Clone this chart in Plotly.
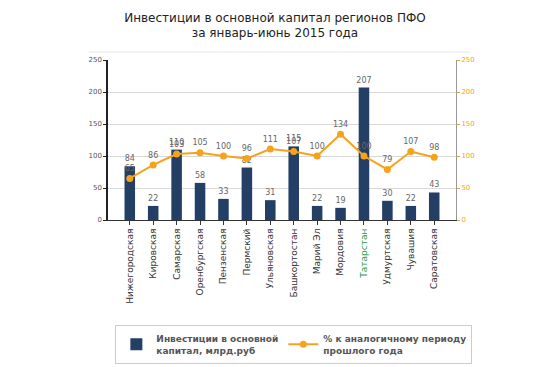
import plotly.graph_objects as go

regions = ["Нижегородская", "Кировская", "Самарская", "Оренбургская", "Пензенская",
           "Пермский", "Ульяновская", "Башкортостан", "Марий Эл", "Мордовия",
           "Татарстан", "Удмуртская", "Чувашия", "Саратовская"]
invest = [84, 22, 110, 58, 33, 82, 31, 115, 22, 19, 207, 30, 22, 43]
percent = [65, 86, 103, 105, 100, 96, 111, 107, 100, 134, 100, 79, 107, 98]
highlight = "Татарстан"
yticks = [0, 50, 100, 150, 200, 250]

ticktext = [f'<span style="color:#1e9a4a">{r}</span>' if r == highlight else r for r in regions]

fig = go.Figure()
fig.add_trace(go.Bar(
    x=regions, y=invest, name="Инвестиции в основной<br>капитал, млрд.руб",
    marker=dict(color="#243f66", line=dict(width=0)),
    text=invest, textposition="outside", cliponaxis=False, constraintext="none",
    textfont=dict(size=8, color="#666666", family="DejaVu Sans"),
))
fig.add_trace(go.Scatter(
    x=regions, y=percent, name="% к аналогичному периоду<br>прошлого года",
    yaxis="y2", mode="lines+markers+text",
    line=dict(color="#f7a21b", width=2), marker=dict(color="#f7a21b", size=7),
    text=percent, textposition="top center", cliponaxis=False,
    textfont=dict(size=8, color="#666666", family="DejaVu Sans"),
))

# the page body adds an 8px offset, so the layout is sized 542x359
fig.update_layout(
    width=542, height=359,
    paper_bgcolor="white", plot_bgcolor="white",
    margin=dict(l=100, r=94, t=52, b=147, autoexpand=False),
    title=dict(text="Инвестиции в основной капитал регионов ПФО<br>за январь-июнь 2015 года",
               x=0.4926, xanchor="center", xref="container", y=0.962, yanchor="top",
               font=dict(size=12, color="#222222", family="DejaVu Sans")),
    bargap=0.55,
    showlegend=True,
    legend=dict(orientation="h", x=1.047, xanchor="right", xref="paper",
                y=-0.656, yanchor="top", yref="paper",
                bordercolor="#cccccc", borderwidth=1,
                font=dict(size=9, color="#555555", family="DejaVu Sans", weight="bold"),
                itemwidth=30),
    xaxis=dict(tickmode="array", tickvals=regions, ticktext=ticktext, tickangle=-90,
               tickfont=dict(size=9, color="#333333", family="DejaVu Sans"),
               showline=True, linecolor="#333333", linewidth=1, automargin=False,
               ticks="outside", ticklen=4, tickcolor="#333333", showgrid=False),
    yaxis=dict(range=[0, 250], tickvals=yticks, showgrid=True, gridcolor="#d9d9d9",
               showline=True, linecolor="#222222", linewidth=1.5, automargin=False,
               ticks="outside", ticklen=3, tickcolor="#222222",
               tickfont=dict(size=7, color="#555555", family="DejaVu Sans"), zeroline=False),
    yaxis2=dict(range=[0, 250], tickvals=yticks, overlaying="y", side="right",
                showgrid=False, showline=True, linecolor="#999999", linewidth=1, automargin=False,
                ticks="outside", ticklen=3, tickcolor="#f7a21b",
                tickfont=dict(size=7, color="#f7a21b", family="DejaVu Sans"), zeroline=False),
)
fig.add_shape(type="line", xref="paper", yref="paper", x0=-0.055, x1=1.04, y0=1.05, y1=1.05,
              line=dict(color="#e6e6e6", width=1))

fig.write_html("out.html")
